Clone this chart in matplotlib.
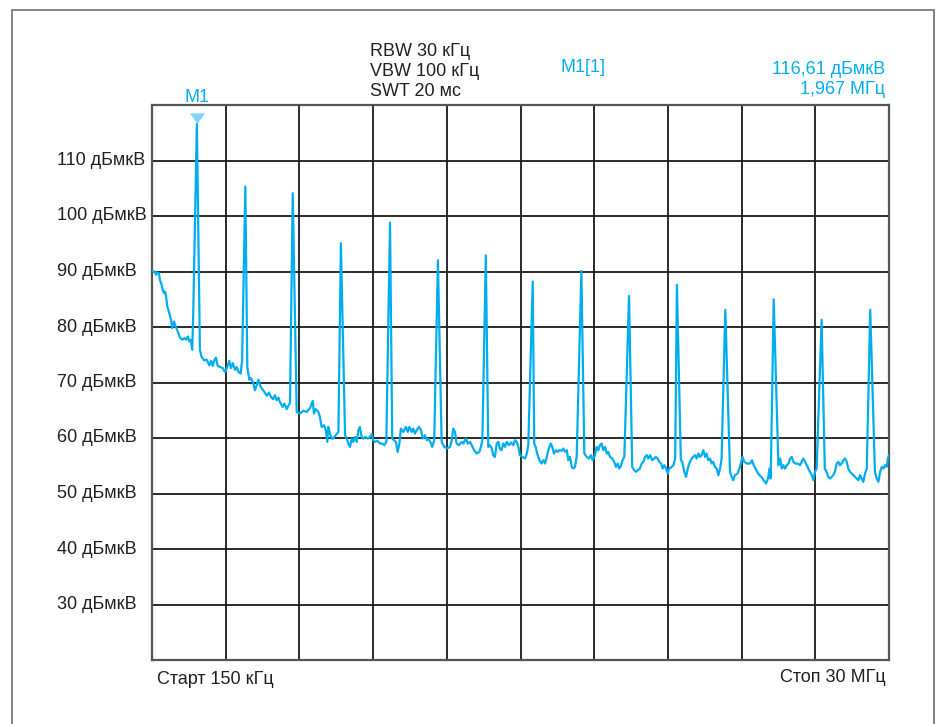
import matplotlib
matplotlib.use("Agg")
import matplotlib.pyplot as plt
import matplotlib.transforms as mtransforms
from matplotlib.patches import Rectangle

plt.rcParams['font.family'] = ['Liberation Sans', 'DejaVu Sans']

# spectrum analyser settings / marker readout
settings = ["RBW 30 кГц", "VBW 100 кГц", "SWT 20 мс"]
marker_name = "M1"
marker_mhz = 1.967
marker_dbuv = 116.61

f_start, f_stop = 0.15, 30.0
level_ticks = [30, 40, 50, 60, 70, 80, 90, 100, 110]

# harmonic peaks (MHz, dBuV)
peak_mhz = [1.967, 3.93, 5.85, 7.80, 9.79, 11.73, 13.67, 15.57,
            17.54, 19.47, 21.41, 23.37, 25.33, 27.27, 29.24]
peak_dbuv = [116.61, 105.3, 104.1, 95.1, 98.8, 92.0, 92.9, 88.2,
             90.1, 85.6, 87.6, 83.1, 85.0, 81.3, 83.1]

# noise floor (MHz, dBuV)
noise_floor = [
    (0.15, 90.0), (0.27, 90.0), (0.31, 89.4), (0.36, 89.8), (0.43, 89.7),
    (0.47, 88.5), (0.54, 87.6), (0.58, 86.7), (0.64, 86.1), (0.68, 86.4),
    (0.72, 85.5), (0.77, 83.7), (0.85, 82.5), (0.92, 81.3), (0.97, 79.8),
    (1.04, 81.0), (1.11, 80.1), (1.19, 79.2), (1.28, 78.1), (1.38, 77.7),
    (1.46, 78.0), (1.53, 77.7), (1.60, 78.3), (1.66, 77.4), (1.72, 77.7),
    (1.78, 75.9), (1.82, 82.5),
    (2.09, 75.9), (2.16, 74.6), (2.26, 74.0), (2.37, 74.1), (2.47, 73.1),
    (2.54, 73.9), (2.61, 73.0), (2.67, 74.0), (2.74, 74.5), (2.81, 73.0),
    (2.90, 72.8), (3.01, 72.6), (3.11, 71.9), (3.20, 72.8), (3.28, 73.9),
    (3.35, 72.6), (3.42, 73.5), (3.51, 72.3), (3.58, 72.8), (3.65, 71.9),
    (3.74, 71.6), (3.80, 74.0),
    (4.01, 72.8), (4.09, 70.5), (4.16, 70.8), (4.25, 69.9), (4.32, 68.6),
    (4.39, 69.5), (4.46, 70.5), (4.52, 69.5), (4.59, 69.0), (4.70, 68.3),
    (4.80, 67.6), (4.89, 68.2), (4.97, 67.4), (5.06, 67.0), (5.13, 67.7),
    (5.20, 66.8), (5.27, 67.3), (5.33, 66.5), (5.44, 65.6), (5.51, 66.2),
    (5.61, 65.2), (5.67, 65.8), (5.74, 66.3),
    (6.01, 64.7), (6.14, 64.4), (6.28, 64.9), (6.42, 64.7), (6.55, 65.4),
    (6.66, 66.7), (6.71, 64.4), (6.78, 65.2), (6.89, 64.7), (6.95, 63.8),
    (7.02, 62.0), (7.12, 62.3), (7.19, 61.4), (7.25, 59.3), (7.29, 62.0),
    (7.36, 60.8), (7.43, 59.9), (7.49, 59.9), (7.59, 60.5), (7.70, 61.1),
    (7.97, 60.5), (8.04, 59.9), (8.10, 59.0), (8.17, 58.4), (8.24, 59.9),
    (8.30, 59.3), (8.37, 60.2), (8.44, 59.3), (8.51, 61.4), (8.57, 62.0),
    (8.64, 60.2), (8.71, 59.9), (8.78, 60.2), (8.89, 59.9), (8.98, 60.2),
    (9.05, 60.7), (9.11, 59.6), (9.18, 59.3), (9.29, 59.5), (9.38, 59.0),
    (9.48, 59.0), (9.56, 58.7), (9.64, 59.3),
    (9.88, 59.9), (9.96, 59.6), (10.03, 59.3), (10.10, 57.5), (10.17, 59.0),
    (10.23, 61.7), (10.33, 61.1), (10.43, 62.0), (10.51, 61.1), (10.57, 62.0),
    (10.67, 61.1), (10.73, 61.7), (10.80, 60.8), (10.87, 61.4), (10.96, 62.0),
    (11.05, 61.4), (11.11, 59.9), (11.21, 60.5), (11.28, 59.6), (11.34, 59.9),
    (11.45, 59.0), (11.50, 58.4), (11.58, 59.6),
    (11.88, 59.3), (11.99, 58.4), (12.09, 58.1), (12.22, 58.4), (12.29, 59.6),
    (12.35, 61.7), (12.42, 61.1), (12.49, 59.0), (12.58, 58.7), (12.69, 59.3),
    (12.76, 59.0), (12.86, 59.9), (12.94, 59.0), (13.03, 59.3), (13.10, 58.7),
    (13.20, 57.8), (13.30, 57.2), (13.41, 57.5), (13.47, 58.4), (13.53, 59.6),
    (13.77, 58.4), (13.84, 58.7), (13.91, 58.1), (13.97, 56.9), (14.04, 56.6),
    (14.11, 59.0), (14.18, 59.3), (14.24, 58.1), (14.31, 57.8), (14.38, 59.0),
    (14.45, 58.4), (14.52, 59.3), (14.61, 58.7), (14.69, 59.2), (14.78, 58.7),
    (14.85, 59.6), (14.92, 59.3), (14.99, 58.4), (15.05, 56.9), (15.15, 56.6),
    (15.26, 56.3), (15.33, 57.2), (15.39, 58.7),
    (15.63, 59.0), (15.69, 58.4), (15.75, 57.2), (15.84, 56.0), (15.93, 55.4),
    (16.00, 56.0), (16.07, 55.4), (16.14, 56.6), (16.20, 57.8), (16.30, 59.0),
    (16.36, 58.4), (16.43, 57.2), (16.51, 57.8), (16.58, 57.5), (16.65, 57.8),
    (16.74, 57.7), (16.81, 58.1), (16.88, 57.5), (16.95, 57.8), (17.01, 56.0),
    (17.08, 56.6), (17.15, 54.8), (17.21, 54.5), (17.28, 54.8), (17.35, 56.6),
    (17.66, 57.2), (17.76, 56.6), (17.85, 56.3), (17.93, 56.9), (18.00, 56.0),
    (18.09, 56.9), (18.16, 58.4), (18.23, 57.8), (18.29, 58.7), (18.36, 59.0),
    (18.43, 57.8), (18.50, 58.4), (18.57, 57.2), (18.63, 57.5), (18.70, 56.6),
    (18.79, 56.3), (18.87, 55.7), (18.94, 54.8), (19.01, 55.4), (19.07, 54.5),
    (19.14, 54.9), (19.21, 56.0), (19.28, 56.6),
    (19.60, 54.8), (19.68, 54.2), (19.75, 53.9), (19.82, 54.2), (19.91, 54.5),
    (19.98, 55.4), (20.05, 55.7), (20.12, 56.6), (20.19, 56.9), (20.25, 56.3),
    (20.32, 56.9), (20.41, 56.0), (20.49, 56.3), (20.56, 56.6), (20.63, 56.3),
    (20.70, 55.7), (20.77, 55.4), (20.83, 54.5), (20.90, 55.1), (20.97, 54.5),
    (21.04, 53.6), (21.10, 54.5), (21.20, 54.8), (21.27, 55.1), (21.34, 56.3),
    (21.57, 56.0), (21.63, 55.7), (21.71, 53.9), (21.78, 53.0), (21.85, 54.5),
    (21.91, 55.4), (22.01, 56.3), (22.07, 56.6), (22.14, 56.9), (22.21, 56.3),
    (22.28, 57.2), (22.34, 56.6), (22.41, 56.9), (22.48, 57.8), (22.55, 56.6),
    (22.61, 57.2), (22.68, 56.0), (22.75, 56.3), (22.82, 55.4), (22.88, 55.7),
    (22.95, 54.8), (23.02, 54.5), (23.09, 53.3), (23.16, 54.5), (23.22, 56.3),
    (23.56, 53.9), (23.63, 53.0), (23.69, 52.4), (23.76, 53.3), (23.87, 53.6),
    (23.94, 54.5), (24.00, 55.4), (24.07, 56.6), (24.14, 55.7), (24.24, 55.4),
    (24.38, 55.4), (24.45, 56.0), (24.52, 55.1), (24.59, 54.5), (24.66, 53.9),
    (24.75, 53.3), (24.83, 53.0), (24.92, 52.4), (25.02, 51.8), (25.10, 52.7),
    (25.16, 54.5), (25.21, 52.7),
    (25.52, 55.1), (25.59, 56.3), (25.66, 54.5), (25.72, 55.1), (25.79, 54.5),
    (25.86, 55.1), (25.93, 55.4), (25.99, 56.3), (26.06, 56.6), (26.13, 55.7),
    (26.20, 55.4), (26.30, 55.4), (26.40, 55.1), (26.46, 55.7), (26.53, 56.3),
    (26.60, 55.7), (26.67, 55.1), (26.73, 54.5), (26.80, 53.9), (26.87, 53.3),
    (26.94, 52.4), (27.00, 53.9), (27.07, 54.5),
    (27.40, 54.5), (27.47, 53.9), (27.54, 53.0), (27.61, 52.7), (27.68, 53.0),
    (27.74, 53.3), (27.81, 53.9), (27.88, 55.4), (27.95, 55.7), (28.01, 55.1),
    (28.08, 55.4), (28.15, 56.0), (28.22, 56.3), (28.29, 55.7), (28.35, 54.5),
    (28.42, 53.9), (28.49, 53.6), (28.56, 53.3), (28.62, 53.0), (28.69, 52.7),
    (28.76, 52.4), (28.83, 53.3), (28.89, 52.7), (28.96, 52.1), (29.03, 53.6),
    (29.10, 54.5),
    (29.43, 53.9), (29.50, 52.7), (29.57, 52.1), (29.64, 53.9), (29.71, 54.8),
    (29.77, 54.5), (29.84, 55.1), (29.91, 54.8), (29.95, 56.3), (30.00, 56.9),
]

# merge floor and peaks into one trace, sorted by frequency
trace = sorted(noise_floor + list(zip(peak_mhz, peak_dbuv)))
trace_mhz = [p[0] for p in trace]
trace_dbuv = [p[1] for p in trace]

BLUE = '#00aeef'
INK = '#231f20'
W, H = 939, 724

fig = plt.figure(figsize=(W / 100, H / 100), dpi=100)
fig.patch.set_facecolor('white')

# outer frame of the screenshot
fig.patches.append(Rectangle((12 / W, -0.05), (934 - 12) / W, 1.05 - 10 / H,
                             transform=fig.transFigure, fill=False,
                             edgecolor='#7a7a7a', linewidth=1.3))

ax = fig.add_axes([152 / W, (H - 660) / H, (889 - 152) / W, (660 - 105) / H])
ax.plot(trace_mhz, trace_dbuv, color=BLUE, linewidth=1.6, zorder=3)

ax.set_xlim(f_start, f_stop)
ax.set_ylim(20, 120)
step = (f_stop - f_start) / 10
ax.set_xticks([f_start + i * step for i in range(11)])
ax.set_yticks(range(20, 121, 10))
ax.tick_params(length=0, labelbottom=False, labelleft=False)
ax.grid(True, color='#1a1a1a', linewidth=1.3)
for sp in ax.spines.values():
    sp.set_color('#555555')
    sp.set_linewidth(1.6)

# marker triangle and label
ax.plot([marker_mhz], [117.6], marker=[(-1.5, 1), (1.5, 1), (0, -1)],
        markersize=11, color='#7fd3f4', markeredgewidth=0, clip_on=False, zorder=4)
ax.text(marker_mhz, 121.4, marker_name, color=BLUE, fontsize=13,
        ha='center', va='center')

# level labels on the left
lab_tr = mtransforms.blended_transform_factory(fig.transFigure, ax.transData)
for lv in level_ticks:
    fig.text(57 / W, lv, f"{lv} дБмкВ", transform=lab_tr, fontsize=13,
             color=INK, ha='left', va='center')

def px(x, y):
    return x / W, 1 - y / H

for i, s in enumerate(settings):
    fig.text(*px(370, 52 + 20 * i), s, fontsize=13, color=INK, ha='left', va='center')

fig.text(*px(561, 67), "M1[1]", fontsize=13, color=BLUE, ha='left', va='center')
fig.text(*px(885, 70), f"{marker_dbuv:.2f}".replace('.', ',') + " дБмкВ",
         fontsize=13, color=BLUE, ha='right', va='center')
fig.text(*px(885, 90), f"{marker_mhz:.3f}".replace('.', ',') + " МГц",
         fontsize=13, color=BLUE, ha='right', va='center')

fig.text(*px(157, 679), "Старт 150 кГц", fontsize=13, color=INK, ha='left', va='center')
fig.text(*px(886, 678), "Стоп 30 МГц", fontsize=13, color=INK, ha='right', va='center')

fig.savefig('out.png', dpi=100, facecolor='white')
